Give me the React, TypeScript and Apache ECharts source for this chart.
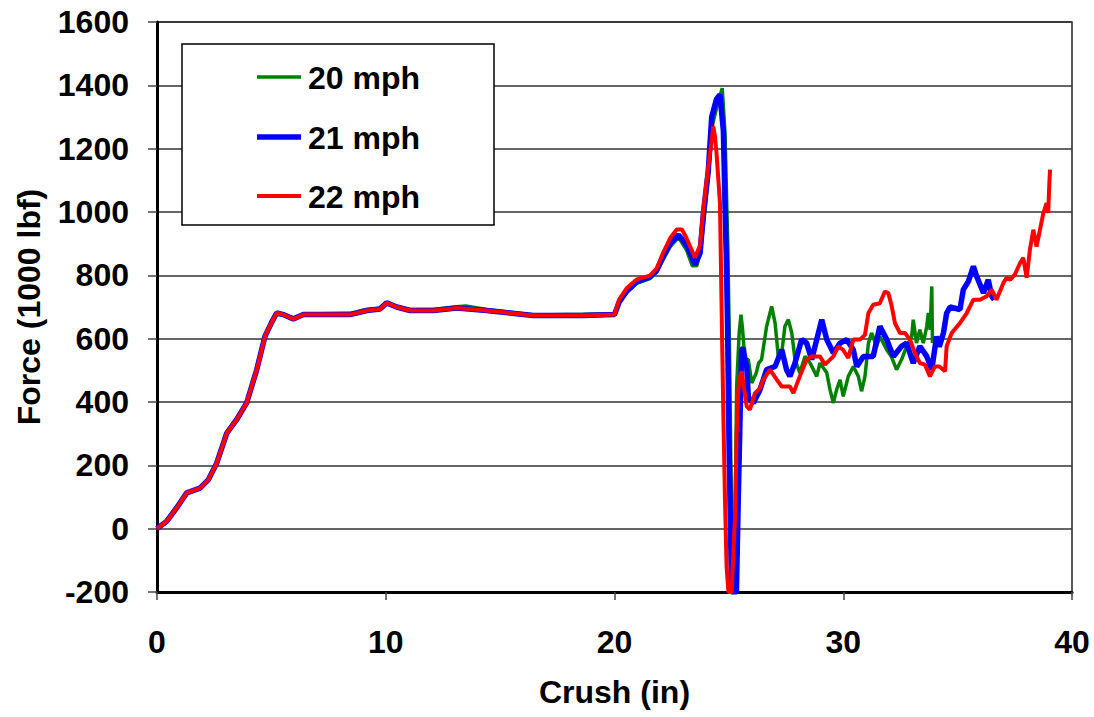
import React, { useEffect, useRef } from "react";
import * as echarts from "echarts";

const xTicks = [0, 10, 20, 30, 40];
const yTicks = [-200, 0, 200, 400, 600, 800, 1000, 1200, 1400, 1600];
const seriesNames = ["20 mph", "21 mph", "22 mph"];
const seriesColors = ["#008000", "#0000ff", "#ff0000"];
const seriesWidths = [3.5, 5.5, 4];

// Crush (in), Force (1000 lbf)
const ramp: number[][] = [
  [0, 0], [0.42, 23], [0.9, 70], [1.3, 113], [1.88, 128], [2.25, 155], [2.61, 207],
  [3.05, 302], [3.48, 344], [3.92, 397], [4.36, 502], [4.72, 607], [5.0, 650],
  [5.23, 681], [5.52, 676], [5.96, 662], [6.4, 676], [8.44, 676], [9.17, 689],
  [9.75, 694], [10.04, 713], [10.48, 700], [11.06, 689], [12.08, 689], [13.1, 697],
  [14.41, 689], [15.72, 679], [16.45, 673], [18.64, 673], [20.0, 676],
];

const mph20: number[][] = [
  [0, 0], [0.42, 23], [0.9, 70], [1.3, 113], [1.88, 128], [2.25, 155], [2.61, 207],
  [3.05, 302], [3.48, 344], [3.92, 397], [4.36, 502], [4.72, 607], [5.0, 650],
  [5.23, 681], [5.52, 676], [5.96, 666], [6.4, 678], [8.44, 680], [9.17, 692],
  [9.75, 696], [10.04, 712], [10.48, 702], [11.06, 692], [12.08, 692], [13.1, 701],
  [13.5, 703], [14.41, 692], [15.72, 681], [16.45, 675], [18.64, 677], [20.0, 679],
  [20.2, 715], [20.53, 745], [20.97, 775], [21.55, 790], [21.84, 810], [22.13, 850],
  [22.43, 890], [22.8, 920], [23.15, 880], [23.4, 830], [23.6, 830], [23.8, 900],
  [23.95, 1000], [24.1, 1120], [24.3, 1280], [24.5, 1340], [24.71, 1391], [24.83, 1250],
  [24.95, 900], [25.02, 600], [25.08, 250], [25.15, -100], [25.2, -200], [25.25, -100],
  [25.34, 449], [25.45, 618], [25.53, 676], [25.6, 628], [25.7, 534], [25.85, 534],
  [26.0, 460], [26.2, 492], [26.3, 523], [26.43, 534], [26.65, 639], [26.87, 702],
  [27.02, 649], [27.16, 544], [27.31, 555], [27.45, 639], [27.6, 660], [27.75, 618],
  [27.89, 534], [28.1, 492], [28.33, 544], [28.55, 523], [28.84, 481], [28.98, 523],
  [29.28, 492], [29.42, 439], [29.57, 397], [29.71, 439], [29.86, 470], [30.0, 418],
  [30.22, 481], [30.44, 512], [30.66, 481], [30.8, 434], [30.95, 481], [31.1, 586],
  [31.24, 618], [31.46, 576], [31.6, 607], [31.9, 565], [32.1, 544], [32.33, 502],
  [32.55, 534], [32.77, 576], [32.99, 607], [33.06, 660], [33.2, 586], [33.35, 628],
  [33.5, 586], [33.65, 639], [33.72, 681], [33.8, 628], [33.87, 765], [33.9, 586],
];

const mph21Tail: number[][] = [
  [20.2, 715], [20.53, 750], [20.97, 780], [21.55, 795], [21.84, 815], [22.13, 860],
  [22.43, 900], [22.8, 928], [23.15, 895], [23.52, 834], [23.74, 870], [23.88, 990],
  [24.1, 1130], [24.25, 1300], [24.46, 1357], [24.61, 1370], [24.76, 1256], [24.83, 1028],
  [24.9, 818], [24.95, 600], [25.0, 300], [25.07, 0], [25.12, -200], [25.33, -200],
  [25.41, 92], [25.49, 355], [25.56, 565], [25.63, 570], [25.7, 534], [25.78, 512],
  [25.85, 418], [25.92, 407], [26.07, 397], [26.36, 439], [26.65, 502], [27.02, 512],
  [27.31, 565], [27.52, 502], [27.67, 481], [27.89, 523], [28.18, 597], [28.4, 586],
  [28.62, 534], [28.84, 597], [29.06, 660], [29.28, 597], [29.57, 555], [29.86, 586],
  [30.15, 597], [30.44, 565], [30.59, 512], [30.88, 544], [31.31, 544], [31.6, 639],
  [31.9, 597], [32.19, 544], [32.55, 576], [32.77, 586], [33.06, 523], [33.35, 576],
  [33.65, 544], [33.87, 502], [34.08, 607], [34.2, 575], [34.38, 618], [34.52, 681],
  [34.67, 700], [35.1, 692], [35.25, 755], [35.47, 781], [35.69, 828], [35.83, 797],
  [36.13, 744], [36.34, 786], [36.49, 734], [36.6, 723],
];

const mph22Tail: number[][] = [
  [20.2, 723], [20.53, 759], [20.97, 787], [21.55, 799], [21.84, 821], [22.13, 872],
  [22.43, 917], [22.72, 945], [22.95, 945], [23.15, 917], [23.52, 856], [23.74, 895],
  [23.88, 1007], [24.1, 1143], [24.32, 1270], [24.39, 1239], [24.46, 1186], [24.54, 1102],
  [24.61, 1028], [24.66, 800], [24.7, 618], [24.76, 355], [24.83, 92], [24.9, -119],
  [24.98, -200], [25.12, -200], [25.27, 39], [25.34, 302], [25.41, 439], [25.49, 481],
  [25.56, 497], [25.63, 460], [25.78, 386], [25.92, 376], [26.14, 428], [26.36, 444],
  [26.5, 470], [26.8, 502], [27.1, 470], [27.31, 449], [27.67, 449], [27.82, 428],
  [28.1, 481], [28.4, 534], [28.62, 544], [28.98, 544], [29.2, 518], [29.57, 544],
  [29.78, 576], [29.99, 565], [30.22, 539], [30.44, 597], [30.73, 597], [30.95, 612],
  [31.1, 681], [31.31, 707], [31.6, 712], [31.82, 749], [31.97, 744], [32.12, 702],
  [32.26, 649], [32.48, 618], [32.7, 618], [32.92, 597], [33.13, 555], [33.35, 523],
  [33.57, 518], [33.79, 481], [34.0, 512], [34.2, 512], [34.45, 497], [34.52, 576],
  [34.74, 618], [35.1, 649], [35.4, 681], [35.69, 723], [35.98, 723], [36.27, 734],
  [36.49, 755], [36.7, 723], [37.0, 776], [37.14, 792], [37.3, 786], [37.5, 802],
  [37.73, 839], [37.87, 855], [38.02, 792], [38.16, 881], [38.31, 944], [38.45, 891],
  [38.6, 944], [38.75, 997], [38.89, 1028], [38.96, 997], [39.01, 1092], [39.04, 1134],
];

const mph21 = [...ramp, ...mph21Tail];
const mph22 = [...ramp, ...mph22Tail];
const seriesData = [mph20, mph21, mph22];

const FONT = "'Liberation Sans', Arial, sans-serif";
const TXT = { fontSize: 32, fontWeight: "bold", color: "#000", fontFamily: FONT };

export default function App() {
  const ref = useRef<HTMLDivElement>(null);
  useEffect(() => {
    if (!ref.current) return;
    const chart = echarts.init(ref.current, undefined, { renderer: "svg" });

    const legendRows = [77, 137, 196];
    const legendGraphics: any[] = [
      {
        type: "rect",
        shape: { x: 182, y: 44, width: 312, height: 181 },
        style: { fill: "#fff", stroke: "#000", lineWidth: 1.5 },
        z: 100,
      },
    ];
    seriesNames.forEach((name, i) => {
      legendGraphics.push({
        type: "line",
        shape: { x1: 257, y1: legendRows[i], x2: 301, y2: legendRows[i] },
        style: { stroke: seriesColors[i], lineWidth: seriesWidths[i] },
        z: 101,
      });
      legendGraphics.push({
        type: "text",
        x: 308,
        y: legendRows[i] + 1,
        style: {
          text: name,
          font: `bold 32px ${FONT}`,
          fill: "#000",
          verticalAlign: "middle",
          align: "left",
        },
        z: 101,
      });
    });

    chart.setOption({
      animation: false,
      backgroundColor: "#fff",
      textStyle: { fontFamily: FONT },
      grid: {
        left: 157, top: 22, right: 22, bottom: 125, containLabel: false,
        show: true, borderColor: "#222", borderWidth: 1.5, backgroundColor: "transparent",
      },
      graphic: legendGraphics,
      xAxis: {
        type: "value",
        min: xTicks[0],
        max: xTicks[xTicks.length - 1],
        interval: 10,
        name: "Crush (in)",
        nameLocation: "middle",
        nameGap: 84,
        nameTextStyle: TXT,
        axisLine: { onZero: false, lineStyle: { color: "#000", width: 3 } },
        axisTick: { show: true, length: 8, lineStyle: { color: "#444", width: 1.5 } },
        axisLabel: { ...TXT, margin: 34 },
        splitLine: { show: false },
      },
      yAxis: {
        type: "value",
        min: yTicks[0],
        max: yTicks[yTicks.length - 1],
        interval: 200,
        name: "Force (1000 lbf)",
        nameLocation: "middle",
        nameGap: 112,
        nameTextStyle: TXT,
        axisLine: { onZero: false, lineStyle: { color: "#000", width: 3 } },
        axisTick: { show: true, length: 9, lineStyle: { color: "#444", width: 1.5 } },
        axisLabel: { ...TXT, margin: 28, formatter: (v: number) => String(v) },
        splitLine: { show: true, lineStyle: { color: "#333", width: 1.5 } },
      },
      series: seriesNames.map((name, i) => ({
        name,
        type: "line",
        data: seriesData[i],
        symbol: "none",
        lineStyle: { color: seriesColors[i], width: seriesWidths[i] },
        itemStyle: { color: seriesColors[i] },
        z: 2 + i,
      })),
    });
    return () => chart.dispose();
  }, []);
  return <div ref={ref} style={{ width: 1094, height: 717, position: "absolute", left: 0, top: 0 }} />;
}
